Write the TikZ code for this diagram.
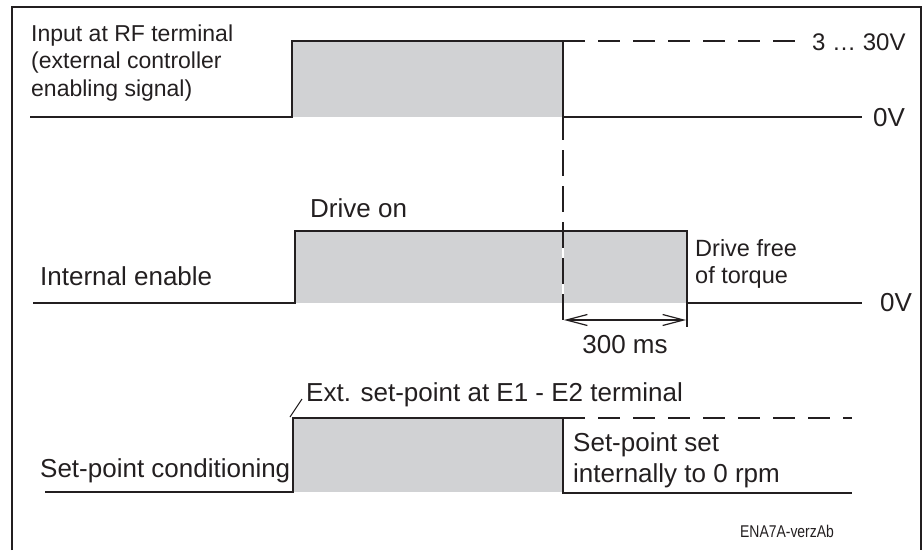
\documentclass[tikz,border=0pt]{standalone}
\usepackage{fontspec}
\setmainfont{Liberation Sans}
\usetikzlibrary{arrows.meta}
\definecolor{pulsegray}{RGB}{209,210,212}
\definecolor{inkblack}{RGB}{35,31,32}

\begin{document}
\begin{tikzpicture}[x=1pt,y=-1pt,
        sig/.style={line width=2.4pt,inkblack},
        dsig/.style={line width=2.4pt,inkblack,dash pattern=on 22pt off 13pt},
        lbl/.style={inner sep=0pt,anchor=base west,align=left,text=inkblack,font=\fontsize{26}{31}\selectfont},
        lblsmall/.style={lbl,font=\fontsize{23}{27.5}\selectfont}]
    \useasboundingbox (0,0) rectangle (924,550);
    \fill[pulsegray] (292,41) rectangle (563,117);
    \fill[pulsegray] (295,231) rectangle (687,303);
    \fill[pulsegray] (293,418) rectangle (563,492);
    \draw[line width=2pt,inkblack] (12,550) -- (12,7) -- (921,7) -- (921,550);
    \draw[sig] (30,117) -- (292,117) -- (292,41) -- (563,41) -- (563,140);
    \draw[sig] (563,117) -- (862,117);
    \draw[dsig] (563,41) -- (803,41);
    \draw[line width=2.4pt,white] (563,231) -- (563,303);
    \draw[line width=2.4pt,inkblack,dash pattern=on 26pt off 10pt] (563,150) -- (563,328);
    \draw[sig] (33,303) -- (295,303) -- (295,231) -- (687,231) -- (687,303) -- (862,303);
    \draw[line width=1.6pt,inkblack] (687,303) -- (687,327);
    \draw[line width=1.2pt,inkblack,{Straight Barb[length=21pt,width=11pt]}-{Straight Barb[length=21pt,width=11pt]}] (564,320) -- (686,320);
    \draw[sig] (45,492) -- (293,492) -- (293,418) -- (563,418) -- (563,493) -- (852,493);
    \draw[dsig] (563,418) -- (852,418);
    \draw[line width=1pt,inkblack] (290,417) -- (302,399);
    \node[lblsmall] (rfin) at (31,96) {Input at RF terminal\\(external controller\\enabling signal)};
    \node[lblsmall,font=\fontsize{24}{28}\selectfont] (rfhigh) at (812,50) {3 … 30V};
    \node[lbl] (rflow) at (873,126) {0V};
    \node[lbl] (drvon) at (310,217) {Drive on};
    \node[lbl] (intena) at (40,285) {Internal enable};
    \node[lblsmall,font=\fontsize{23.5}{27}\selectfont] (drvfree) at (695,283) {Drive free\\of torque};
    \node[lbl] (intlow) at (880,311) {0V};
    \node[lbl,anchor=base] (delay) at (625,353) {300 ms};
    \node[lbl] (extsp) at (306,401) {Ext. set-point at E1 - E2 terminal};
    \node[lbl] (spcond) at (40,477) {Set-point conditioning};
    \node[lbl] (spzero) at (573,482) {Set-point set\\internally to 0 rpm};
    \node[lbl,font=\fontsize{17}{20}\selectfont,xscale=0.82] (figid) at (740,537) {ENA7A-verzAb};
\end{tikzpicture}
\end{document}
